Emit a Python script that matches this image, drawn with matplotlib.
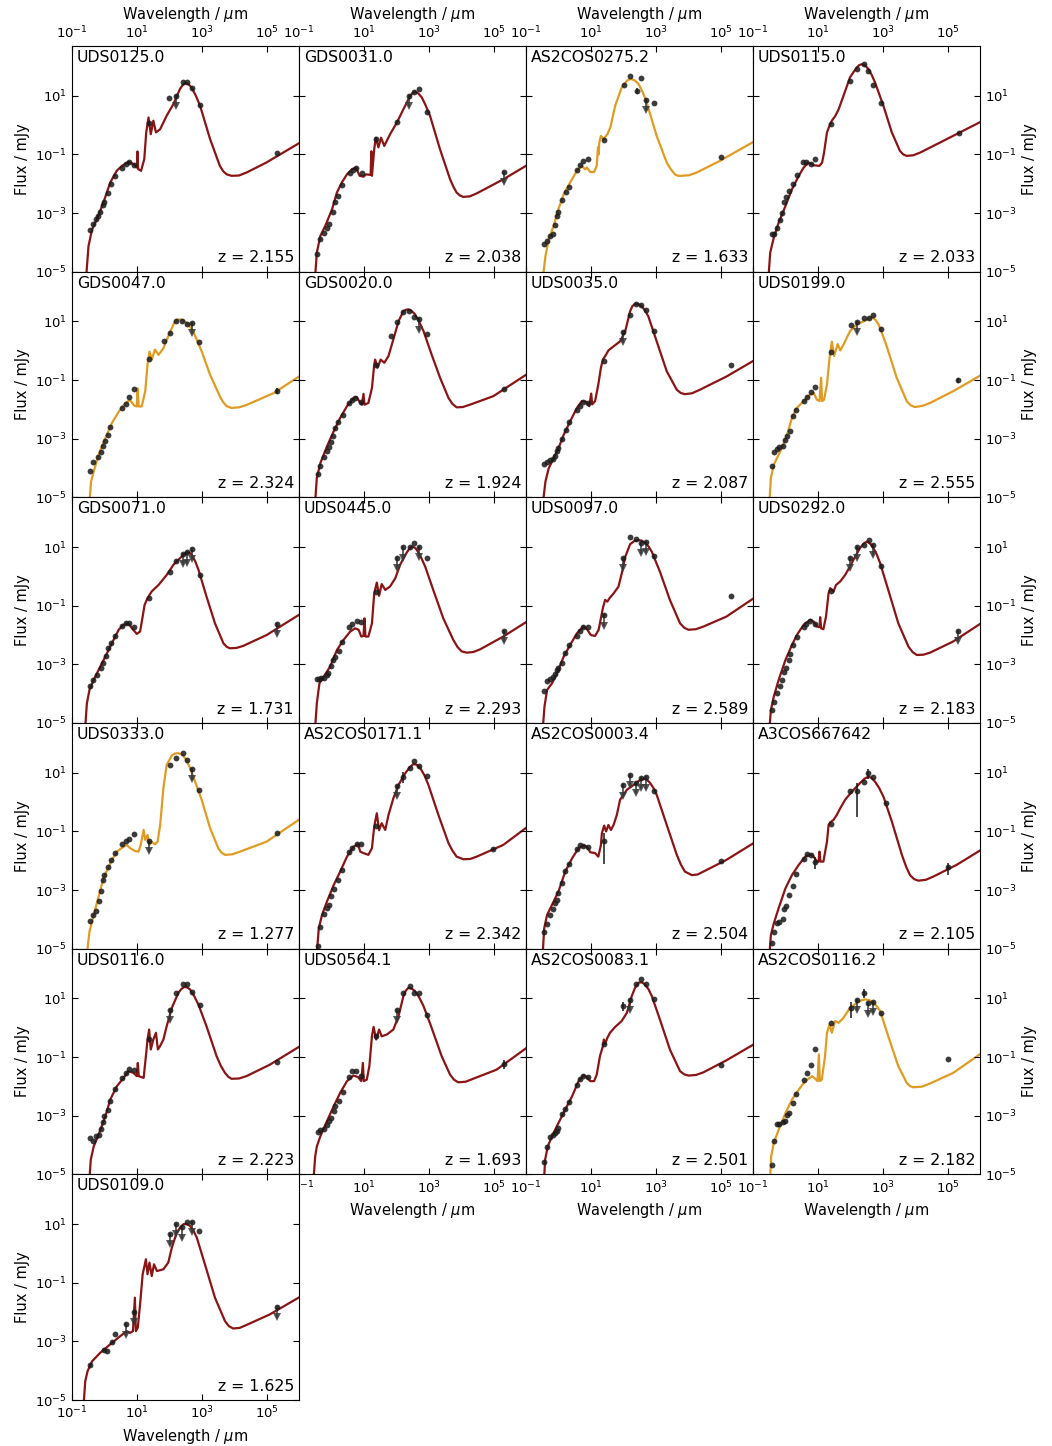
import numpy as np
import matplotlib
matplotlib.use("Agg")
import matplotlib.pyplot as plt
from matplotlib.ticker import FixedLocator, NullLocator

# all values are log10(wavelength / um), log10(flux / mJy)
names = ["UDS0125.0", "GDS0031.0", "AS2COS0275.2", "UDS0115.0",
         "GDS0047.0", "GDS0020.0", "UDS0035.0", "UDS0199.0",
         "GDS0071.0", "UDS0445.0", "UDS0097.0", "UDS0292.0",
         "UDS0333.0", "AS2COS0171.1", "AS2COS0003.4", "A3COS667642",
         "UDS0116.0", "UDS0564.1", "AS2COS0083.1", "AS2COS0116.2",
         "UDS0109.0"]
redshifts = [2.155, 2.038, 1.633, 2.033, 2.324, 1.924, 2.087, 2.555,
             1.731, 2.293, 2.589, 2.183, 1.277, 2.342, 2.504, 2.105,
             2.223, 1.693, 2.501, 2.182, 1.625]
orange_fits = ["AS2COS0275.2", "GDS0047.0", "UDS0199.0", "UDS0333.0", "AS2COS0116.2"]

# ---- UDS0125.0
m01 = [(-0.57, -5.3), (-0.49, -4.13), (-0.38, -3.56), (-0.23, -3.21), (-0.03, -2.64), (0.18, -1.96),
       (0.38, -1.56), (0.54, -1.39), (0.74, -1.26), (0.90, -1.33), (1.00, -1.45), (1.02, -0.90),
       (1.04, -1.50), (1.13, -1.56), (1.23, -1.16), (1.29, -0.25), (1.36, 0.26), (1.43, -0.31),
       (1.51, 0.15), (1.59, -0.25), (1.72, -0.14), (1.92, 0.32), (2.13, 0.72), (2.33, 1.23),
       (2.49, 1.43), (2.69, 1.28), (2.95, 0.66), (3.26, -0.48), (3.56, -1.39), (3.77, -1.68),
       (3.92, -1.73), (4.38, -1.62), (4.99, -1.28), (6.0, -0.62)]
k01 = [(2.41, 1.36), (2.59, 1.40), (2.82, 1.00), (3.66, -1.57), (4.15, -1.72)]
d01 = [(-0.44, -3.59), (-0.36, -3.36), (-0.26, -3.19), (-0.20, -3.10), (-0.13, -2.95), (-0.05, -2.72),
       (0.0, -2.64), (0.10, -2.30), (0.21, -2.02), (0.33, -1.73), (0.54, -1.45), (0.66, -1.34),
       (0.76, -1.25), (0.90, -1.37), (1.38, 0.06), (2.0, 0.92), (2.41, 1.48), (2.54, 1.48),
       (2.71, 1.28), (2.94, 0.68), (5.33, -0.94)]
u01 = [(2.21, 1.0)]

# ---- GDS0031.0
m02 = [(-0.51, -5.3), (-0.45, -4.35), (-0.34, -3.78), (-0.19, -3.44), (0.02, -2.87), (0.17, -2.30),
       (0.32, -1.96), (0.48, -1.68), (0.63, -1.51), (0.76, -1.45), (0.87, -1.73), (0.99, -1.76),
       (1.07, -1.68), (1.21, -1.70), (1.23, -0.89), (1.25, -1.73), (1.32, -0.82), (1.37, -0.43),
       (1.45, -0.76), (1.53, -0.43), (1.63, -0.71), (1.81, -0.31), (2.02, 0.09), (2.22, 0.54),
       (2.43, 1.0), (2.58, 1.14), (2.79, 0.94), (3.04, 0.32), (3.35, -0.83), (3.66, -1.85),
       (3.86, -2.30), (4.07, -2.45), (4.48, -2.33), (5.30, -1.85), (6.0, -1.39)]
k02 = [(2.50, 1.09), (2.68, 1.08), (2.91, 0.66), (3.76, -2.10), (3.96, -2.40), (4.27, -2.43)]
d02 = [(-0.43, -4.40), (-0.35, -3.87), (-0.22, -3.67), (-0.15, -3.52), (-0.08, -3.36), (0.05, -2.98),
       (0.10, -2.63), (0.20, -2.42), (0.32, -2.05), (0.56, -1.65), (0.66, -1.54), (0.76, -1.47),
       (0.94, -1.65), (1.38, -0.48), (2.02, 0.09), (2.55, 1.14), (2.70, 1.23), (2.94, 0.43)]
u02 = [(2.40, 1.0), (5.33, -1.60)]

# ---- AS2COS0275.2
m03 = [(-0.49, -5.3), (-0.40, -4.47), (-0.30, -3.90), (-0.15, -3.44), (0.0, -2.87), (0.16, -2.36),
       (0.36, -1.96), (0.57, -1.56), (0.72, -1.39), (0.82, -1.51), (0.88, -1.45), (0.98, -1.60),
       (1.10, -1.60), (1.18, -1.39), (1.22, -0.75), (1.24, -1.0), (1.26, -0.59), (1.31, -0.37),
       (1.39, -0.48), (1.51, -0.31), (1.60, -0.08), (1.75, 0.66), (1.95, 1.28), (2.11, 1.51),
       (2.26, 1.57), (2.47, 1.40), (2.72, 0.77), (3.03, -0.37), (3.34, -1.28), (3.59, -1.68),
       (3.80, -1.73), (4.26, -1.62), (4.98, -1.22), (6.0, -0.58)]
k03 = [(2.18, 1.56), (2.36, 1.52), (2.60, 1.12), (3.47, -1.51), (3.69, -1.73), (4.03, -1.71)]
d03 = [(-0.44, -4.04), (-0.35, -3.95), (-0.25, -3.78), (-0.18, -3.70), (-0.12, -3.40), (-0.03, -3.10),
       (0.0, -2.98), (0.11, -2.55), (0.23, -2.27), (0.34, -2.11), (0.57, -1.53), (0.67, -1.35),
       (0.77, -1.22), (0.91, -1.14), (1.39, -0.51), (2.02, 1.38), (2.21, 1.66), (2.56, 1.59),
       (2.94, 0.74), (5.0, -1.09)]
e03 = [(2.41, 1.17, 3.5)]
u03 = [(2.70, 0.87)]

# ---- UDS0115.0
m04 = [(-0.53, -5.3), (-0.47, -4.35), (-0.36, -3.84), (-0.21, -3.33), (0.0, -2.76), (0.20, -2.19),
       (0.41, -1.73), (0.56, -1.45), (0.71, -1.28), (0.87, -1.37), (1.05, -1.39), (1.13, -1.28),
       (1.19, -0.94), (1.28, -0.25), (1.36, -0.02), (1.43, 0.15), (1.53, 0.30), (1.64, 0.54),
       (1.79, 1.0), (1.99, 1.63), (2.20, 1.97), (2.37, 2.08), (2.56, 1.91), (2.76, 1.46),
       (3.02, 0.66), (3.28, -0.25), (3.53, -0.88), (3.74, -1.05), (4.15, -0.94), (4.97, -0.48),
       (6.0, 0.10)]
k04 = [(2.28, 2.05), (2.46, 2.03), (2.66, 1.71), (3.63, -1.0), (3.94, -1.03)]
d04 = [(-0.42, -3.70), (-0.34, -3.70), (-0.26, -3.50), (-0.18, -3.24), (-0.10, -3.01), (-0.04, -2.64),
       (0.02, -2.44), (0.11, -2.26), (0.23, -2.0), (0.35, -1.71), (0.54, -1.26), (0.64, -1.26),
       (0.78, -1.32), (0.91, -1.14), (1.39, 0.05), (2.0, 1.51), (2.22, 1.93), (2.41, 2.08),
       (2.55, 1.85), (2.71, 1.36), (2.94, 0.75), (5.34, -0.27)]
u04 = []

# ---- GDS0047.0
m05 = [(-0.47, -5.3), (-0.41, -4.46), (-0.33, -4.12), (-0.18, -3.55), (0.03, -2.98), (0.23, -2.47),
       (0.44, -2.08), (0.64, -1.79), (0.79, -1.68), (0.92, -1.87), (1.0, -1.90), (1.02, -1.28),
       (1.06, -1.90), (1.15, -1.90), (1.26, -1.38), (1.33, -0.47), (1.39, -0.03), (1.46, -0.30),
       (1.56, 0.04), (1.67, -0.14), (1.82, 0.09), (2.03, 0.66), (2.18, 1.01), (2.33, 1.07),
       (2.54, 0.95), (2.74, 0.66), (3.0, -0.02), (3.26, -0.82), (3.56, -1.55), (3.77, -1.89),
       (3.92, -1.95), (4.38, -1.85), (5.21, -1.45), (6.0, -0.88)]
k05 = [(2.25, 1.06), (2.43, 1.04), (2.64, 0.82), (3.66, -1.75), (4.15, -1.93)]
d05 = [(-0.44, -4.11), (-0.36, -3.79), (-0.21, -3.62), (-0.11, -3.46), (-0.05, -3.26), (0.03, -3.07),
       (0.11, -2.88), (0.18, -2.61), (0.54, -1.95), (0.66, -1.81), (0.76, -1.59), (0.91, -1.29),
       (1.37, -0.28), (1.85, 0.33), (2.01, 0.61), (2.21, 1.01), (2.39, 1.01), (2.54, 0.90),
       (2.93, 0.31)]
e05 = [(5.33, -1.36, 0.01)]
u05 = [(2.70, 0.94)]

# ---- GDS0020.0
m06 = [(-0.51, -5.3), (-0.45, -4.34), (-0.34, -3.83), (-0.14, -3.27), (0.07, -2.75), (0.27, -2.29),
       (0.48, -1.89), (0.68, -1.61), (0.78, -1.58), (0.89, -1.78), (0.94, -1.84), (0.99, -1.47),
       (1.02, -1.84), (1.14, -1.78), (1.25, -1.27), (1.32, -0.47), (1.35, -0.30), (1.42, -0.58),
       (1.52, -0.30), (1.63, -0.41), (1.76, -0.18), (1.91, 0.39), (2.07, 1.01), (2.22, 1.35),
       (2.37, 1.41), (2.58, 1.24), (2.84, 0.67), (3.09, -0.13), (3.35, -0.92), (3.61, -1.61),
       (3.86, -1.93), (4.27, -1.84), (4.99, -1.55), (6.0, -0.82)]
k06 = [(2.30, 1.40), (2.47, 1.36), (2.71, 0.98), (3.73, -1.81), (4.05, -1.92)]
d06 = [(-0.42, -4.21), (-0.35, -3.94), (-0.22, -3.64), (-0.14, -3.43), (-0.08, -3.29), (-0.01, -3.12),
       (0.05, -2.92), (0.11, -2.63), (0.20, -2.43), (0.35, -2.20), (0.54, -1.79), (0.64, -1.68),
       (0.74, -1.61), (0.90, -1.76), (1.38, -0.50), (1.85, 0.50), (2.02, 0.99), (2.22, 1.33),
       (2.39, 1.35), (2.56, 1.15), (2.94, 0.56), (5.33, -1.30)]
u06 = [(2.70, 1.07)]

# ---- UDS0035.0
m07 = [(-0.49, -5.3), (-0.40, -4.46), (-0.30, -4.01), (-0.15, -3.67), (0.0, -3.33), (0.16, -2.87),
       (0.36, -2.41), (0.57, -1.95), (0.72, -1.72), (0.86, -1.74), (0.95, -1.89), (1.01, -1.46),
       (1.04, -1.83), (1.13, -1.72), (1.23, -1.15), (1.31, -0.58), (1.37, -0.30), (1.47, -0.13),
       (1.54, 0.01), (1.70, 0.15), (1.90, 0.32), (2.06, 0.67), (2.21, 1.35), (2.36, 1.60),
       (2.57, 1.52), (2.77, 1.18), (3.03, 0.32), (3.34, -0.70), (3.65, -1.33), (3.90, -1.48),
       (4.36, -1.33), (5.18, -0.88), (6.0, -0.35)]
k07 = [(2.28, 1.52), (2.46, 1.59), (2.67, 1.37), (3.77, -1.44), (4.12, -1.45)]
d07 = [(-0.44, -3.85), (-0.35, -3.79), (-0.25, -3.74), (-0.18, -3.69), (-0.12, -3.60), (-0.05, -3.43),
       (0.0, -3.32), (0.11, -3.0), (0.23, -2.69), (0.34, -2.44), (0.57, -2.03), (0.67, -1.89),
       (0.77, -1.74), (0.91, -1.77), (1.39, -0.36), (2.21, 1.22), (2.39, 1.60), (2.56, 1.56),
       (2.70, 1.39), (2.95, 0.69), (5.33, -0.49)]
u07 = [(2.0, 0.64)]

# ---- UDS0199.0
m08 = [(-0.50, -5.3), (-0.45, -4.34), (-0.36, -3.89), (-0.26, -3.66), (-0.11, -3.32), (0.05, -2.86),
       (0.20, -2.29), (0.35, -1.95), (0.56, -1.72), (0.76, -1.49), (0.87, -1.44), (0.97, -1.67),
       (1.05, -1.72), (1.10, -0.92), (1.13, -1.72), (1.19, -1.67), (1.28, -1.15), (1.36, -0.24),
       (1.43, 0.31), (1.50, -0.18), (1.61, 0.23), (1.69, 0.01), (1.79, 0.21), (1.99, 0.67),
       (2.20, 0.90), (2.46, 1.03), (2.69, 1.13), (2.87, 0.90), (3.12, 0.16), (3.43, -0.92),
       (3.74, -1.72), (3.99, -1.92), (4.46, -1.78), (5.17, -1.38), (6.0, -0.85)]
k08 = [(2.58, 1.10), (2.78, 1.05), (2.99, 0.56), (3.86, -1.86), (4.22, -1.88)]
d08 = [(-0.42, -3.92), (-0.34, -3.45), (-0.26, -3.34), (-0.19, -3.29), (-0.09, -3.24), (-0.01, -3.03),
       (0.05, -2.92), (0.13, -2.75), (0.23, -2.23), (0.33, -2.03), (0.56, -1.70), (0.66, -1.57),
       (0.78, -1.41), (0.91, -1.22), (1.39, -0.05), (2.02, 0.87), (2.41, 1.13), (2.57, 1.13),
       (2.71, 1.21), (2.95, 0.75)]
e08 = [(5.33, -0.99, 0.02)]
u08 = [(2.22, 0.99)]

# ---- GDS0071.0
m09 = [(-0.60, -5.3), (-0.54, -4.33), (-0.46, -3.87), (-0.33, -3.53), (-0.13, -3.08), (0.08, -2.62),
       (0.28, -2.17), (0.44, -1.82), (0.59, -1.65), (0.74, -1.60), (0.85, -1.77), (1.0, -1.96),
       (1.10, -1.88), (1.18, -1.37), (1.24, -0.97), (1.33, -0.74), (1.46, -0.51), (1.67, -0.29),
       (1.92, 0.05), (2.13, 0.40), (2.33, 0.62), (2.54, 0.82), (2.69, 0.74), (2.90, 0.23),
       (3.15, -0.69), (3.41, -1.60), (3.67, -2.28), (3.87, -2.45), (4.28, -2.37), (5.0, -2.0),
       (6.0, -1.31)]
k09 = [(2.44, 0.74), (2.62, 0.81), (2.80, 0.52), (3.77, -2.40), (4.07, -2.44)]
d09 = [(-0.44, -3.74), (-0.36, -3.53), (-0.23, -3.36), (-0.11, -3.13), (-0.05, -2.96), (0.05, -2.70),
       (0.11, -2.45), (0.20, -2.28), (0.34, -2.03), (0.54, -1.68), (0.66, -1.60), (0.76, -1.60),
       (0.90, -1.74), (1.37, -0.73), (2.01, 0.16), (2.21, 0.54), (2.95, 0.04)]
u09 = [(2.41, 0.76), (2.54, 0.82), (2.71, 0.94), (5.33, -1.62)]

# ---- UDS0445.0
m10 = [(-0.51, -5.3), (-0.45, -4.33), (-0.37, -3.65), (-0.24, -3.42), (-0.04, -3.08), (0.17, -2.51),
       (0.37, -2.17), (0.58, -1.88), (0.73, -1.77), (0.84, -1.82), (0.92, -2.05), (0.99, -2.03),
       (1.02, -1.43), (1.05, -2.05), (1.14, -2.05), (1.25, -1.60), (1.32, -0.57), (1.40, -0.21),
       (1.47, -0.66), (1.55, -0.26), (1.66, -0.46), (1.81, -0.34), (1.97, -0.06), (2.12, 0.40),
       (2.28, 0.74), (2.48, 1.02), (2.63, 0.91), (2.89, 0.34), (3.14, -0.46), (3.45, -1.43),
       (3.76, -2.17), (4.02, -2.56), (4.17, -2.60), (4.58, -2.49), (5.30, -2.05), (6.0, -1.56)]
k10 = [(2.38, 0.91), (2.56, 0.99), (2.76, 0.66), (3.89, -2.41), (4.37, -2.58)]
d10 = [(-0.45, -3.51), (-0.37, -3.50), (-0.31, -3.48), (-0.24, -3.45), (-0.14, -3.36), (-0.09, -3.28),
       (-0.01, -3.05), (0.05, -2.85), (0.12, -2.74), (0.22, -2.56), (0.34, -2.22), (0.55, -1.74),
       (0.65, -1.63), (0.78, -1.51), (0.92, -1.56), (1.38, -0.54), (2.41, 1.0), (2.55, 1.14),
       (2.94, 0.62)]
u10 = [(2.02, 0.62), (2.22, 0.99), (2.70, 1.0), (5.33, -1.85)]

# ---- UDS0097.0
m11 = [(-0.49, -5.3), (-0.43, -4.44), (-0.35, -3.87), (-0.20, -3.65), (-0.05, -3.31), (0.16, -2.74),
       (0.36, -2.34), (0.57, -1.94), (0.77, -1.71), (0.88, -1.80), (1.0, -2.0), (1.13, -2.03),
       (1.24, -1.82), (1.32, -1.37), (1.37, -1.08), (1.44, -0.80), (1.51, -0.86), (1.57, -0.75),
       (1.70, -0.58), (1.85, -0.35), (1.95, 0.09), (2.06, 0.67), (2.21, 1.10), (2.47, 1.24),
       (2.67, 1.15), (2.88, 0.84), (3.13, 0.16), (3.44, -0.81), (3.75, -1.60), (4.01, -1.82),
       (4.47, -1.71), (5.18, -1.37), (6.0, -0.76)]
k11 = [(2.34, 1.21), (2.57, 1.22), (2.78, 1.02), (3.88, -1.75), (4.24, -1.80)]
d11 = [(-0.44, -3.90), (-0.35, -3.56), (-0.25, -3.51), (-0.18, -3.42), (-0.12, -3.34), (-0.05, -3.19),
       (0.0, -3.11), (0.11, -2.96), (0.21, -2.60), (0.34, -2.34), (0.57, -2.02), (0.67, -1.85),
       (0.77, -1.71), (0.91, -1.71), (2.21, 1.33), (2.39, 1.27), (2.95, 0.70), (5.33, -0.66)]
u11 = [(1.39, -1.33), (2.0, 0.62), (2.54, 1.14), (2.70, 1.17)]

# ---- UDS0292.0
m12 = [(-0.50, -5.3), (-0.45, -4.56), (-0.36, -4.10), (-0.21, -3.53), (0.0, -2.85), (0.20, -2.34),
       (0.35, -2.0), (0.56, -1.65), (0.76, -1.48), (0.87, -1.54), (0.97, -1.71), (1.05, -1.73),
       (1.07, -1.39), (1.10, -1.77), (1.17, -1.80), (1.25, -1.37), (1.33, -0.57), (1.38, -0.40),
       (1.48, -0.52), (1.56, -0.29), (1.69, -0.17), (1.84, 0.05), (1.99, 0.34), (2.15, 0.68),
       (2.30, 0.97), (2.51, 1.19), (2.71, 0.97), (2.92, 0.45), (3.17, -0.46), (3.48, -1.60),
       (3.79, -2.39), (4.05, -2.68), (4.46, -2.60), (5.17, -2.22), (6.0, -1.62)]
k12 = [(2.41, 1.12), (2.61, 1.12), (2.82, 0.74), (3.92, -2.58), (4.25, -2.67)]
d12 = [(-0.42, -4.56), (-0.34, -4.30), (-0.26, -3.99), (-0.18, -3.74), (-0.11, -3.53), (-0.03, -3.25),
       (0.02, -3.13), (0.11, -2.85), (0.13, -2.66), (0.23, -2.34), (0.35, -2.05), (0.56, -1.71),
       (0.64, -1.63), (0.76, -1.52), (0.91, -1.63), (1.39, -0.49), (2.41, 1.08), (2.57, 1.23),
       (2.95, 0.36)]
u12 = [(1.99, 0.62), (2.22, 0.99), (2.71, 1.08), (5.33, -1.85)]

# ---- UDS0333.0
m13 = [(-0.55, -5.3), (-0.46, -4.42), (-0.33, -3.85), (-0.18, -3.23), (-0.03, -2.60), (0.18, -2.09),
       (0.38, -1.69), (0.59, -1.52), (0.69, -1.46), (0.79, -1.57), (0.95, -1.67), (1.05, -1.69),
       (1.12, -1.46), (1.21, -0.95), (1.26, -1.29), (1.33, -1.12), (1.39, -1.46), (1.46, -1.35),
       (1.56, -1.44), (1.64, -1.35), (1.72, -0.78), (1.82, 0.48), (1.92, 1.27), (2.08, 1.59),
       (2.28, 1.67), (2.49, 1.50), (2.74, 0.87), (3.0, 0.08), (3.26, -0.89), (3.51, -1.57),
       (3.72, -1.80), (4.18, -1.69), (5.0, -1.35), (6.0, -0.6)]
k13 = [(2.18, 1.66), (2.39, 1.62), (2.62, 1.22), (3.61, -1.72), (3.95, -1.78)]
d13 = [(-0.44, -4.06), (-0.36, -3.85), (-0.26, -3.70), (-0.18, -3.36), (-0.11, -3.02), (-0.03, -2.66),
       (0.0, -2.49), (0.10, -2.22), (0.21, -1.97), (0.33, -1.72), (0.54, -1.44), (0.66, -1.32),
       (0.76, -1.27), (0.91, -1.10), (2.01, 1.25), (2.21, 1.52), (2.41, 1.69), (2.54, 1.44),
       (2.93, 0.43), (5.33, -1.06)]
u13 = [(1.37, -1.31), (2.70, 1.14)]

# ---- AS2COS0171.1
m14 = [(-0.46, -5.3), (-0.39, -4.31), (-0.29, -3.85), (-0.14, -3.40), (0.07, -2.83), (0.27, -2.37),
       (0.48, -1.86), (0.68, -1.52), (0.82, -1.44), (0.89, -1.69), (0.99, -1.74), (1.14, -1.80),
       (1.25, -1.57), (1.32, -0.83), (1.40, -0.38), (1.47, -0.96), (1.55, -0.72), (1.66, -0.95),
       (1.76, -0.44), (1.91, 0.13), (2.07, 0.59), (2.28, 0.99), (2.53, 1.30), (2.74, 1.16),
       (2.99, 0.59), (3.30, -0.44), (3.61, -1.40), (3.86, -1.86), (4.07, -1.95), (4.48, -1.86),
       (5.30, -1.46), (6.0, -0.88)]
k14 = [(2.41, 1.18), (2.64, 1.27), (2.87, 0.91), (3.74, -1.67), (4.28, -1.94)]
d14 = [(-0.42, -4.91), (-0.34, -4.27), (-0.24, -3.82), (-0.14, -3.62), (-0.06, -3.51), (-0.02, -3.20),
       (0.09, -2.96), (0.20, -2.66), (0.34, -2.31), (0.55, -1.71), (0.65, -1.55), (0.78, -1.44),
       (0.92, -1.44), (1.38, -0.81), (2.41, 1.16), (2.55, 1.39), (2.70, 1.22), (2.94, 0.89),
       (4.99, -1.60)]
e14 = [(2.22, 0.87, 3.0)]
u14 = [(2.02, 0.56)]

# ---- AS2COS0003.4
m15 = [(-0.49, -5.3), (-0.44, -4.31), (-0.35, -3.85), (-0.20, -3.51), (0.0, -3.05), (0.21, -2.37),
       (0.42, -1.92), (0.62, -1.57), (0.77, -1.49), (0.88, -1.52), (0.98, -1.71), (1.13, -1.74),
       (1.23, -1.86), (1.31, -1.46), (1.34, -1.06), (1.41, -0.80), (1.47, -1.0), (1.54, -0.78),
       (1.62, -0.95), (1.70, -0.78), (1.80, -0.44), (1.90, 0.08), (2.11, 0.42), (2.36, 0.62),
       (2.62, 0.80), (2.83, 0.65), (3.03, 0.25), (3.34, -0.78), (3.65, -1.80), (3.90, -2.37),
       (4.11, -2.49), (4.47, -2.37), (5.18, -1.97), (6.0, -1.41)]
k15 = [(2.50, 0.74), (2.73, 0.76), (2.93, 0.48), (3.78, -2.14), (4.29, -2.47)]
d15 = [(-0.44, -4.44), (-0.35, -4.16), (-0.25, -3.85), (-0.18, -3.66), (-0.10, -3.45), (-0.05, -3.34),
       (0.0, -3.11), (0.11, -2.77), (0.21, -2.34), (0.34, -2.12), (0.57, -1.60), (0.67, -1.46),
       (0.77, -1.49), (0.91, -1.52), (2.95, 0.38), (5.0, -2.0)]
e15 = [(1.39, -1.32, 0.04)]
u15 = [(2.0, 0.57), (2.21, 0.93), (2.39, 0.65), (2.56, 0.82), (2.70, 0.84)]

# ---- A3COS667642
m16 = [(-0.50, -5.3), (-0.45, -4.54), (-0.36, -4.14), (-0.21, -3.62), (0.0, -2.94), (0.20, -2.49),
       (0.41, -2.14), (0.61, -1.86), (0.76, -1.78), (0.87, -1.86), (0.97, -2.03), (1.02, -2.03),
       (1.05, -1.69), (1.08, -2.03), (1.17, -2.03), (1.28, -1.35), (1.33, -0.78), (1.38, -0.69),
       (1.48, -0.61), (1.58, -0.44), (1.69, -0.21), (1.84, 0.08), (2.05, 0.36), (2.30, 0.65),
       (2.56, 0.87), (2.76, 0.70), (3.02, 0.19), (3.28, -0.66), (3.59, -1.80), (3.84, -2.49),
       (4.10, -2.68), (4.56, -2.54), (5.28, -2.14), (6.0, -1.65)]
k16 = [(2.44, 0.80), (2.66, 0.82), (2.89, 0.48), (3.72, -2.20), (3.97, -2.63), (4.33, -2.65)]
d16 = [(-0.42, -4.79), (-0.36, -4.42), (-0.26, -4.14), (-0.19, -4.10), (-0.09, -3.99), (-0.04, -3.65),
       (0.02, -3.53), (0.11, -3.17), (0.23, -2.85), (0.33, -2.46), (0.56, -1.94), (0.66, -1.78),
       (0.78, -1.80), (1.39, -0.74), (2.0, 0.38), (2.41, 0.67), (2.71, 0.87), (3.10, -0.04)]
e16 = [(0.91, -2.03, 0.004), (2.22, 0.38, 2.1), (2.56, 0.99, 3.5), (5.01, -2.23, 0.0025)]
u16 = []

# ---- UDS0116.0
m17 = [(-0.47, -5.3), (-0.42, -4.50), (-0.33, -4.05), (-0.18, -3.65), (0.03, -3.02), (0.18, -2.45),
       (0.38, -2.0), (0.59, -1.71), (0.74, -1.48), (0.90, -1.54), (1.0, -1.65), (1.03, -1.20),
       (1.06, -1.65), (1.21, -1.71), (1.29, -0.86), (1.33, -0.40), (1.38, -0.06), (1.43, -0.74),
       (1.51, -0.40), (1.59, -0.17), (1.65, -0.74), (1.72, -0.62), (1.82, -0.40), (1.92, 0.05),
       (2.08, 0.68), (2.28, 1.19), (2.46, 1.39), (2.64, 1.31), (2.90, 0.79), (3.15, 0.05),
       (3.46, -0.97), (3.72, -1.54), (3.92, -1.74), (4.38, -1.65), (5.10, -1.26), (6.0, -0.65)]
k17 = [(2.37, 1.32), (2.55, 1.38), (2.77, 1.08), (3.59, -1.30), (3.82, -1.67), (4.15, -1.73)]
d17 = [(-0.44, -3.76), (-0.36, -3.85), (-0.26, -3.70), (-0.18, -3.65), (-0.11, -3.44), (-0.03, -3.23),
       (0.0, -3.02), (0.10, -2.82), (0.18, -2.49), (0.33, -2.08), (0.54, -1.71), (0.66, -1.54),
       (0.76, -1.40), (0.91, -1.45), (1.37, -0.38), (2.21, 1.17), (2.41, 1.48), (2.54, 1.48),
       (2.71, 1.22), (2.94, 0.78), (5.33, -1.16)]
u17 = [(2.01, 0.62)]

# ---- UDS0564.1
m18 = [(-0.56, -5.3), (-0.50, -4.39), (-0.45, -4.05), (-0.34, -3.70), (-0.14, -3.19), (0.07, -2.68),
       (0.27, -2.22), (0.48, -1.82), (0.68, -1.63), (0.82, -1.68), (0.92, -1.82), (0.97, -1.20),
       (1.0, -1.82), (1.09, -1.77), (1.17, -1.31), (1.25, -0.29), (1.30, 0.03), (1.38, -0.40),
       (1.47, -0.06), (1.55, -0.29), (1.71, -0.23), (1.91, -0.06), (2.07, 0.40), (2.22, 1.08),
       (2.37, 1.36), (2.58, 1.25), (2.84, 0.74), (3.09, 0.0), (3.40, -0.97), (3.66, -1.60),
       (3.91, -1.86), (4.37, -1.74), (5.09, -1.43), (6.0, -0.70)]
k18 = [(2.29, 1.26), (2.47, 1.34), (2.71, 1.03), (3.78, -1.77), (4.14, -1.84)]
d18 = [(-0.42, -3.56), (-0.34, -3.50), (-0.24, -3.44), (-0.14, -3.33), (-0.06, -3.19), (-0.02, -3.08),
       (0.09, -2.85), (0.12, -2.68), (0.22, -2.51), (0.35, -2.20), (0.55, -1.68), (0.65, -1.48),
       (0.76, -1.47), (0.90, -1.65), (1.38, -0.29), (2.22, 1.17), (2.41, 1.42), (2.55, 1.19),
       (2.70, 1.19), (2.94, 0.42)]
e18 = [(5.33, -1.22, 0.02)]
u18 = [(2.02, 0.62)]

# ---- AS2COS0083.1
m19 = [(-0.45, -5.3), (-0.41, -4.50), (-0.33, -4.05), (-0.20, -3.70), (0.0, -3.25), (0.21, -2.79),
       (0.42, -2.34), (0.62, -1.82), (0.77, -1.63), (0.88, -1.68), (0.98, -1.82), (1.10, -1.82),
       (1.18, -1.60), (1.28, -0.97), (1.37, -0.63), (1.40, -0.40), (1.44, -0.55), (1.51, -0.34),
       (1.59, -0.17), (1.75, 0.03), (1.95, 0.23), (2.11, 0.51), (2.26, 1.08), (2.47, 1.54),
       (2.67, 1.48), (2.88, 1.08), (3.13, 0.28), (3.44, -0.75), (3.75, -1.48), (4.01, -1.63),
       (4.47, -1.52), (5.18, -1.11), (6.0, -0.58)]
k19 = [(2.36, 1.36), (2.57, 1.55), (2.78, 1.31), (3.88, -1.59), (4.24, -1.61)]
d19 = [(-0.44, -4.59), (-0.35, -4.07), (-0.25, -3.74), (-0.18, -3.65), (-0.12, -3.59), (-0.05, -3.53),
       (0.0, -3.42), (0.11, -2.93), (0.21, -2.77), (0.34, -2.54), (0.57, -1.96), (0.67, -1.76),
       (0.77, -1.63), (0.91, -1.68), (1.39, -0.55), (2.39, 1.50), (2.56, 1.68), (2.70, 1.48),
       (2.95, 0.99), (5.0, -1.28)]
e19 = [(2.0, 0.76, 2.0)]
u19 = [(2.21, 0.94)]

# ---- AS2COS0116.2
m20 = [(-0.48, -5.3), (-0.44, -4.39), (-0.36, -3.93), (-0.21, -3.48), (0.0, -2.91), (0.20, -2.45),
       (0.41, -2.11), (0.61, -1.82), (0.82, -1.65), (0.92, -1.74), (0.99, -1.82), (1.03, -0.91),
       (1.06, -1.82), (1.12, -1.77), (1.22, -0.97), (1.28, -0.17), (1.36, 0.11), (1.43, -0.17),
       (1.53, 0.23), (1.64, 0.17), (1.79, 0.34), (1.99, 0.68), (2.20, 0.85), (2.46, 0.97),
       (2.71, 0.85), (2.92, 0.57), (3.17, -0.29), (3.48, -1.31), (3.74, -1.88), (3.94, -2.03),
       (4.46, -1.90), (5.17, -1.54), (6.0, -0.90)]
k20 = [(2.33, 0.93), (2.59, 0.94), (2.82, 0.73), (3.84, -1.99), (4.20, -2.01)]
d20 = [(-0.42, -4.69), (-0.34, -3.87), (-0.26, -3.28), (-0.19, -3.28), (-0.09, -3.21), (-0.01, -3.17),
       (0.05, -2.99), (0.11, -2.91), (0.23, -2.56), (0.33, -2.25), (0.56, -1.79), (0.66, -1.54),
       (0.78, -1.26), (0.91, -0.74), (1.39, 0.17), (2.95, 0.51), (5.01, -1.05)]
e20 = [(2.02, 0.68, 2.6), (2.41, 1.19, 5.0)]
u20 = [(2.22, 0.94), (2.56, 0.83), (2.71, 0.87)]

# ---- UDS0109.0
m21 = [(-0.65, -5.3), (-0.59, -4.36), (-0.52, -4.02), (-0.38, -3.68), (-0.13, -3.39), (0.18, -3.10),
       (0.49, -2.82), (0.69, -2.65), (0.79, -2.71), (0.88, -2.65), (0.94, -1.51), (0.97, -2.65),
       (1.03, -2.53), (1.10, -1.74), (1.18, -0.71), (1.28, -0.20), (1.33, -0.71), (1.39, -0.31),
       (1.46, -0.77), (1.53, -0.37), (1.62, -0.60), (1.82, -0.54), (1.97, -0.31), (2.08, 0.20),
       (2.23, 0.71), (2.44, 1.0), (2.64, 0.94), (2.85, 0.54), (3.10, -0.37), (3.41, -1.51),
       (3.72, -2.31), (3.97, -2.56), (4.38, -2.44), (5.10, -2.08), (6.0, -1.50)]
k21 = [(2.34, 0.89), (2.54, 1.0), (2.75, 0.77), (3.84, -2.48), (4.17, -2.54)]
d21 = [(-0.44, -3.81), (0.0, -3.30), (0.08, -3.33), (0.23, -3.01), (0.33, -2.76), (2.54, 1.06),
       (2.93, 0.75)]
u21 = [(0.67, -2.42), (0.90, -2.0), (2.01, 0.66), (2.21, 1.02), (2.38, 0.89), (2.69, 1.08),
       (5.33, -1.83)]

models = [m01, m02, m03, m04, m05, m06, m07, m08, m09, m10, m11, m12, m13, m14, m15, m16,
          m17, m18, m19, m20, m21]
# extra knots read around the far-IR peak and the radio minimum
peak_knots = [k01, k02, k03, k04, k05, k06, k07, k08, k09, k10, k11, k12, k13, k14, k15, k16,
              k17, k18, k19, k20, k21]
detections = [d01, d02, d03, d04, d05, d06, d07, d08, d09, d10, d11, d12, d13, d14, d15, d16,
              d17, d18, d19, d20, d21]
with_errors = {2: e03, 4: e05, 7: e08, 13: e14, 14: e15, 15: e16, 17: e18, 18: e19, 19: e20}
upper_limits = [u01, u02, u03, u04, u05, u06, u07, u08, u09, u10, u11, u12, u13, u14, u15, u16,
                u17, u18, u19, u20, u21]

RED = "#8b1414"
ORANGE = "#e09b22"
PT = "#1a1a1a"
LIM = "#383838"

fig = plt.figure(figsize=(10.52, 14.46), dpi=100)
gs = fig.add_gridspec(6, 4, left=0.0684, right=0.9316, top=0.9682, bottom=0.0318,
                      hspace=0, wspace=0)

for i, name in enumerate(names):
    r, c = divmod(i, 4)
    ax = fig.add_subplot(gs[r, c])
    ax.set_xscale("log")
    ax.set_yscale("log")

    m = np.array(sorted(models[i] + peak_knots[i]))
    col = ORANGE if name in orange_fits else RED
    ax.plot(10 ** m[:, 0], 10 ** m[:, 1], color=col, lw=1.6, zorder=1)

    d = np.array(detections[i])
    ax.plot(10 ** d[:, 0], 10 ** d[:, 1], "o", color=PT, ms=4.2, mew=0, alpha=0.85, zorder=3)

    if i in with_errors:
        e = np.array(with_errors[i])
        ax.errorbar(10 ** e[:, 0], 10 ** e[:, 1], yerr=e[:, 2], fmt="o", color=PT, ms=4.2,
                    mew=0, elinewidth=1.3, capsize=0, alpha=0.85, zorder=3)

    for lx, ly in upper_limits[i]:
        x, y = 10 ** lx, 10 ** ly
        ax.plot([x, x], [y, y * 0.45], color=LIM, lw=1.3, alpha=0.85, zorder=3)
        ax.plot(x, y * 0.45, "v", color=LIM, ms=6, mew=0, alpha=0.85, zorder=3)
        ax.plot(x, y, "o", color=PT, ms=4.2, mew=0, alpha=0.85, zorder=3)

    ax.set_xlim(1e-1, 1e6)
    ax.set_ylim(1e-5, 5e2)
    ax.xaxis.set_major_locator(FixedLocator([1e-1, 1e1, 1e3, 1e5]))
    ax.yaxis.set_major_locator(FixedLocator([1e-5, 1e-3, 1e-1, 1e1]))
    ax.xaxis.set_minor_locator(NullLocator())
    ax.yaxis.set_minor_locator(NullLocator())

    lab_top = r == 0
    lab_bottom = (r == 4 and c > 0) or r == 5
    ax.tick_params(which="both", direction="in", top=True, bottom=True, left=True, right=True,
                   length=4, width=0.8, labelsize=9.5,
                   labeltop=lab_top, labelbottom=lab_bottom,
                   labelleft=(c == 0), labelright=(c == 3))
    if lab_top:
        ax.xaxis.set_label_position("top")
        ax.set_xlabel(r"Wavelength / $\mu$m", fontsize=10.5)
    if lab_bottom:
        ax.set_xlabel(r"Wavelength / $\mu$m", fontsize=10.5)
    if c == 0:
        ax.set_ylabel("Flux / mJy", fontsize=10.5)
    if c == 3:
        ax.yaxis.set_label_position("right")
        ax.set_ylabel("Flux / mJy", fontsize=10.5)

    ax.text(0.022, 0.982, name, transform=ax.transAxes, ha="left", va="top", fontsize=11.3)
    ax.text(0.978, 0.028, "z = %.3f" % redshifts[i], transform=ax.transAxes,
            ha="right", va="bottom", fontsize=11.3)

fig.savefig("out.png", dpi=100)
